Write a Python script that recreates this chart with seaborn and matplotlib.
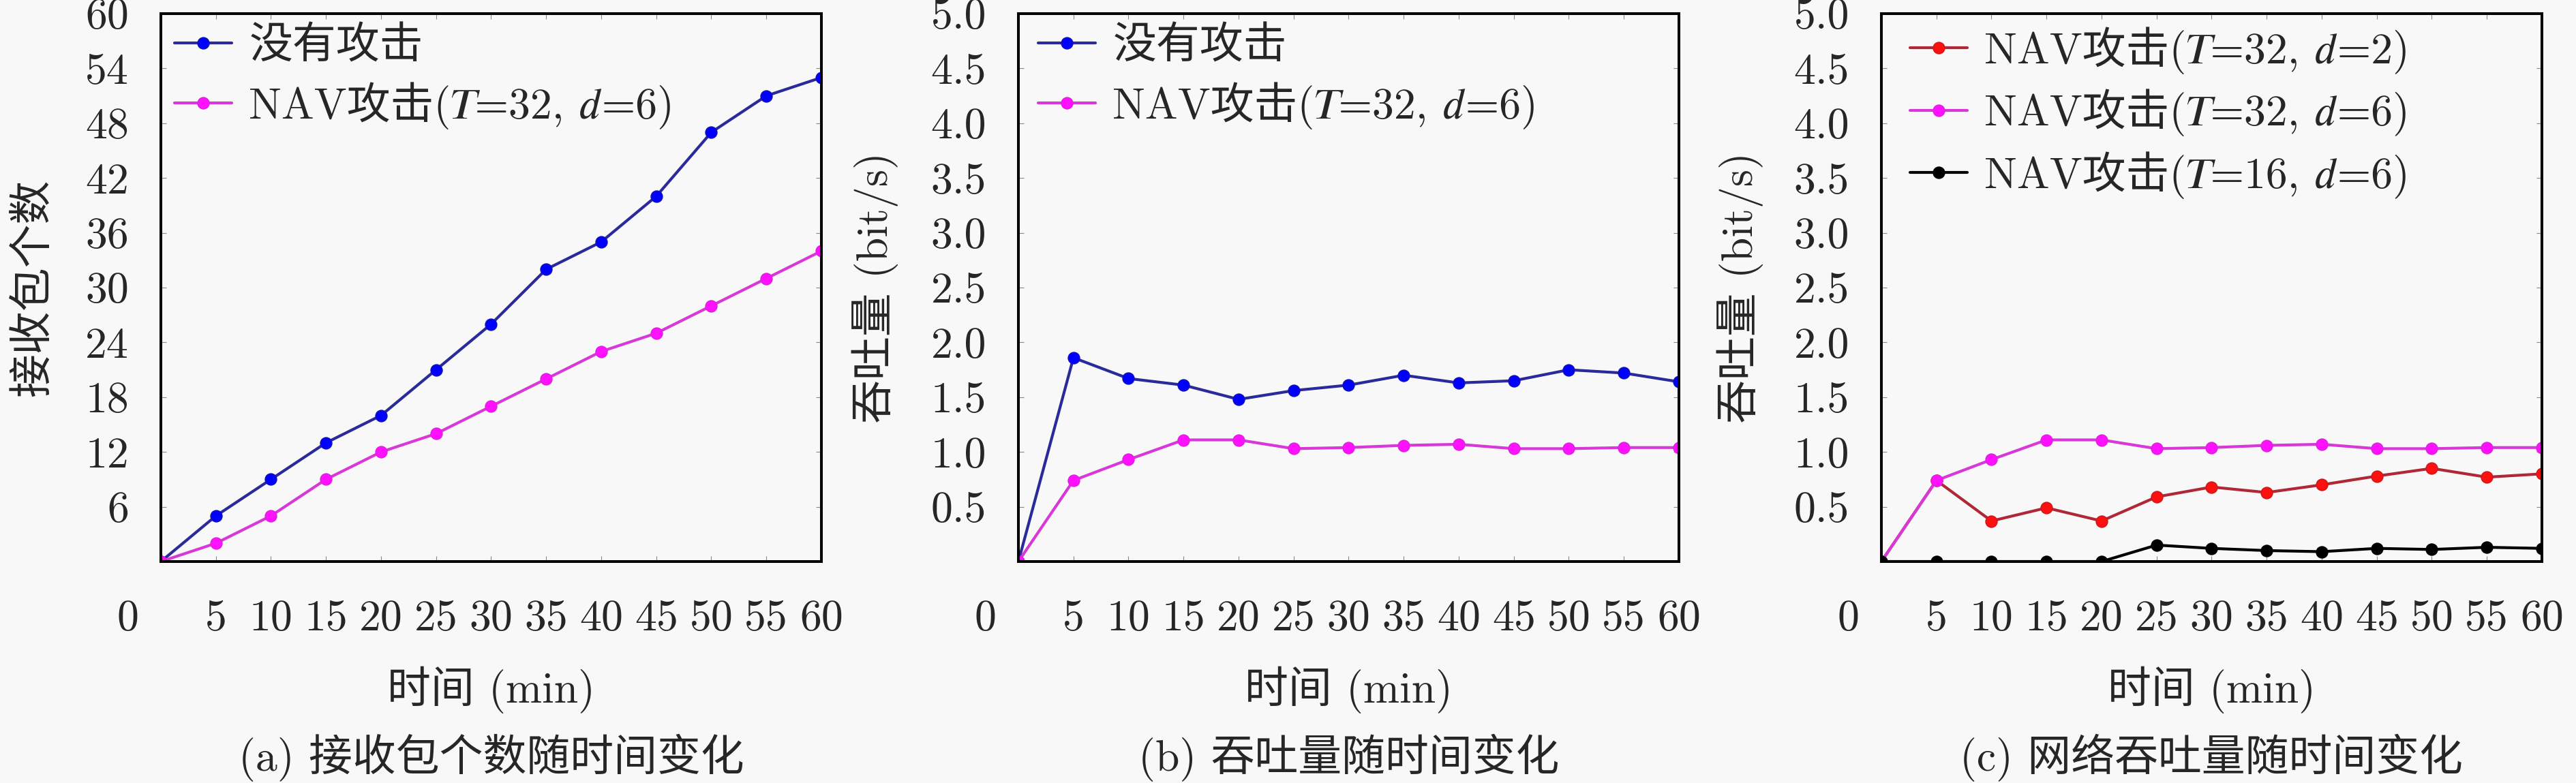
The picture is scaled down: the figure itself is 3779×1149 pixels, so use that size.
import matplotlib
matplotlib.use("Agg")
import matplotlib.pyplot as plt
import seaborn as sns
import numpy as np
import pandas as pd

# ---------------- data ----------------
time_min = [0, 5, 10, 15, 20, 25, 30, 35, 40, 45, 50, 55, 60]
recv_no_attack = [0, 5, 9, 13, 16, 21, 26, 32, 35, 40, 47, 51, 53]
recv_nav_32_6 = [0, 2, 5, 9, 12, 14, 17, 20, 23, 25, 28, 31, 34]
thr_no_attack = [0, 1.86, 1.67, 1.61, 1.48, 1.56, 1.61, 1.70, 1.63, 1.65, 1.75, 1.72, 1.64]
thr_nav_32_6 = [0, 0.74, 0.93, 1.11, 1.11, 1.03, 1.04, 1.06, 1.07, 1.03, 1.03, 1.04, 1.04]
thr_nav_32_2 = [0, 0.74, 0.37, 0.49, 0.37, 0.59, 0.68, 0.63, 0.70, 0.78, 0.85, 0.77, 0.80]
thr_nav_16_6 = [0, 0, 0, 0, 0, 0.15, 0.12, 0.10, 0.09, 0.12, 0.11, 0.13, 0.12]

x_ticks = [0, 5, 10, 15, 20, 25, 30, 35, 40, 45, 50, 55, 60]
x_tick_labels = ["", "5", "10", "15", "20", "25", "30", "35", "40", "45", "50", "55", "60"]
recv_ticks = [6, 12, 18, 24, 30, 36, 42, 48, 54, 60]
recv_tick_labels = ["6", "12", "18", "24", "30", "36", "42", "48", "54", "60"]
thr_ticks = [0.5, 1.0, 1.5, 2.0, 2.5, 3.0, 3.5, 4.0, 4.5, 5.0]
thr_tick_labels = ["0.5", "1.0", "1.5", "2.0", "2.5", "3.0", "3.5", "4.0", "4.5", "5.0"]

lbl_no = "没有攻击"
lbl_32_6 = "NAV攻击(𝑇=32, 𝑑=6)"
lbl_32_2 = "NAV攻击(𝑇=32, 𝑑=2)"
lbl_16_6 = "NAV攻击(𝑇=16, 𝑑=6)"
xlabel = "时间 (min)"
ylabel_a = "接收包个数"
ylabel_bc = "吞吐量 (bit/s)"
captions = ["(a) 接收包个数随时间变化", "(b) 吞吐量随时间变化", "(c) 网络吞吐量随时间变化"]

# ---------------- style ----------------
sns.set_style("ticks")
BG = "#f8f8f8"
plt.rcParams["font.family"] = ["cmr10", "Noto Sans CJK SC", "STIXGeneral", "DejaVu Serif"]
plt.rcParams["axes.unicode_minus"] = False
FS = 46

fig = plt.figure(figsize=(37.8, 11.49), dpi=100, facecolor=BG)

W, H = 3780, 1149
ax_w = 969 / W
ax_b = (H - 824) / H
ax_h = 804 / H
lefts = [236 / W, 1494 / W, 2760 / W]

styles = {
    lbl_no: dict(color="#2a2a9a", markerfacecolor="#0000ff", markeredgecolor="#1010c0"),
    lbl_32_6: dict(color="#d838d8", markerfacecolor="#ff10ff", markeredgecolor="#e020e0"),
    lbl_32_2: dict(color="#b02838", markerfacecolor="#ff1010", markeredgecolor="#d01818"),
    lbl_16_6: dict(color="#000000", markerfacecolor="#000000", markeredgecolor="#000000"),
}

panels = [
    ([(recv_no_attack, lbl_no), (recv_nav_32_6, lbl_32_6)], (0, 60), recv_ticks, recv_tick_labels, ylabel_a, -0.192, 20),
    ([(thr_no_attack, lbl_no), (thr_nav_32_6, lbl_32_6)], (0, 5), thr_ticks, thr_tick_labels, ylabel_bc, -0.217, 29),
    ([(thr_nav_32_2, lbl_32_2), (thr_nav_32_6, lbl_32_6), (thr_nav_16_6, lbl_16_6)], (0, 5), thr_ticks, thr_tick_labels, ylabel_bc, -0.214, 42),
]

for i, (series, ylim, yt, ytl, ylab, ylx, legoff) in enumerate(panels):
    ax = fig.add_axes([lefts[i], ax_b, ax_w, ax_h])
    ax.set_facecolor(BG)
    for vals, lab in series:
        df = pd.DataFrame({"t": time_min, "v": vals})
        sns.lineplot(data=df, x="t", y="v", ax=ax, label=lab, marker="o",
                     markersize=12, linewidth=3.0, markeredgewidth=1.2,
                     **styles[lab])
    ax.set_xlim(0, 60)
    ax.set_ylim(*ylim)
    ax.set_xticks(x_ticks)
    ax.set_xticklabels(x_tick_labels)
    ax.set_yticks(yt)
    ax.set_yticklabels(ytl)
    ax.tick_params(axis="both", which="major", direction="in", length=6, width=0.8,
                   color="#888888", labelsize=FS, top=True, right=True)
    ax.tick_params(axis="x", pad=40)
    ax.tick_params(axis="y", pad=34)
    for sp in ax.spines.values():
        sp.set_linewidth(2.9)
        sp.set_color("black")
        sp.set_visible(True)
    ax.set_xlabel(xlabel, fontsize=FS)
    ax.xaxis.label.set_va("center")
    ax.xaxis.set_label_coords(0.5, -(1012 - 824) / 804)
    ax.set_ylabel(ylab, fontsize=FS)
    ax.yaxis.label.set_va("center")
    ax.yaxis.set_label_coords(ylx, 0.5)
    ax.annotate("0", xy=(0, 0), xycoords="axes fraction", xytext=(-49, -56),
                textcoords="offset pixels", ha="center", va="top", fontsize=FS)
    leg = ax.legend(loc="upper left", bbox_to_anchor=((legoff - 19) / 969, 1.0),
                    frameon=False, fontsize=FS, handlelength=1.31, handletextpad=0.4,
                    borderaxespad=0.0, borderpad=0.3, labelspacing=0.34)
    cx = lefts[i] + ax_w / 2
    fig.text(cx, 1 - 1112 / H, captions[i], ha="center", va="center", fontsize=FS)

fig.savefig("out.png", dpi=100, facecolor=BG)
